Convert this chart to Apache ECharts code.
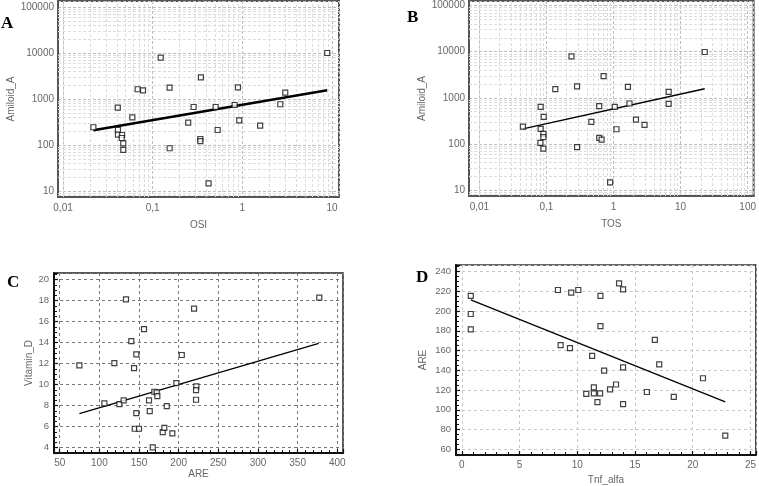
<!DOCTYPE html>
<html><head><meta charset="utf-8">
<script src="https://cdn.jsdelivr.net/npm/echarts@6/dist/echarts.min.js"></script>
<style>html,body{margin:0;padding:0;background:#fff}#c{width:759px;height:486px}</style>
</head><body><div id="c"></div>
<script>
// ---------- Panel A: OSI vs Amiloid_A ----------
const osiA = [0.0218,0.0408,0.041,0.041,0.0455,0.0452,0.047,0.047,0.0593,0.068,0.078,0.1228,0.1545,0.1545,0.249,0.286,0.345,0.34,0.34,0.42,0.504,0.53,0.82,0.893,0.924,1.58,2.65,3.01,8.85];
const amiloidA = [243,647,212,168,165,142,109,78,400,1627,1546,7900,1762,85,306,670,2960,135,122,14.7,670,212,741,1795,344,263,768,1374,10000];
const fitA_x = [0.0218, 8.85];
const fitA_y = [209, 1546];
// ---------- Panel B: TOS vs Amiloid_A ----------
const tosB = [0.0445,0.082,0.091,0.082,0.090,0.090,0.0812,0.090,0.1355,0.236,0.286,0.286,0.467,0.612,0.711,0.612,0.664,0.89,1.045,1.107,1.64,1.73,2.16,2.9,6.64,6.64,22.9];
const amiloidB = [238,637,386,212,165,140,105,79,1546,7900,1762,85,301,659,2960,135,124,14.7,637,208,1734,753,338,259,1350,741,9850];
const fitB_x = [0.0445, 22.9];
const fitB_y = [212, 1570];
// ---------- Panel C: ARE vs Vitamin_D ----------
const areC = [74.8,106.3,118.9,125.2,130.7,133.6,140.3,143.7,146.6,146.6,144.6,150.0,156.3,162.6,163.5,167.3,169.3,172.3,173.1,179.9,181.9,185,192,197.1,203.9,219.4,222.3,221.9,221.9,377.3];
const vitD = [11.84,8.22,12.06,8.16,8.51,18.13,14.16,11.59,12.89,7.30,5.81,5.81,15.30,8.51,7.49,4.03,9.33,9.27,8.92,5.49,5.90,7.97,5.37,10.16,12.83,17.24,9.84,9.49,8.57,18.29];
const fitC_x = [74.8, 376.6];
const fitC_y = [7.24, 13.94];
// ---------- Panel D: Tnf_alfa vs ARE ----------
const tnfD = [0.78,0.78,0.78,8.33,8.56,9.37,9.48,10.09,10.78,11.29,11.44,11.44,11.75,11.98,12.01,12.01,12.33,12.84,13.36,13.62,13.97,13.97,13.97,16.03,16.72,17.10,18.36,20.89,22.82];
const areD = [215.4,197.1,181.5,221.4,165.6,162.6,218.7,221.4,116.1,154.6,122.7,116.7,107.8,116.7,215.4,184.8,139.7,120.7,125.7,228.0,222.1,143.0,105.8,118.1,170.9,146.0,113.1,132.0,73.9];
const fitD_x = [0.78, 22.82];
const fitD_y = [211.4, 108.1];

// tick labels
const logTickValsA_x = [0.01, 0.1, 1, 10];
const logTickLabsA_x = ['0,01', '0,1', '1', '10'];
const logTickValsB_x = [0.01, 0.1, 1, 10, 100];
const logTickLabsB_x = ['0,01', '0,1', '1', '10', '100'];
const logTickValsY = [10, 100, 1000, 10000, 100000];
const logTickLabsY = ['10', '100', '1000', '10000', '100000'];
const minorMult = [2,3,4,5,6,7,8,9];

const panelLetters = ['A','B','C','D'];
const axisNames = { ax: 'OSI', bx: 'TOS', ay: 'Amiloid_A', by: 'Amiloid_A', cx: 'ARE', cy: 'Vitamin_D', dx: 'Tnf_alfa', dy: 'ARE' };

const FONT = 'Liberation Sans, Arial, sans-serif';
const LABEL_COLOR = '#666';

function zip(xs, ys) { return xs.map((x, i) => [x, ys[i]]); }
function logFmt(vals, labs) {
  return function (v) {
    for (let i = 0; i < vals.length; i++) if (Math.abs(v / vals[i] - 1) < 1e-6) return labs[i];
    return '';
  };
}
function minorLogLines(lo, hi, key) {
  const out = [];
  for (let d = Math.floor(Math.log10(lo)); d <= Math.ceil(Math.log10(hi)); d++) {
    minorMult.forEach(m => { const v = m * Math.pow(10, d); if (v > lo && v < hi) { const o = {}; o[key] = v; out.push(o); } });
  }
  return out;
}

const extA_x = [Math.pow(10, -2.056), Math.pow(10, 1.078)];
const extA_y = [Math.pow(10, 0.87), Math.pow(10, 5.13)];
const extB_x = [Math.pow(10, -2.155), Math.pow(10, 2.089)];
const extB_y = [Math.pow(10, 0.87), Math.pow(10, 5.10)];

const majorLogSplit = { show: true, lineStyle: { color: '#bdbdbd', type: [3, 2], width: 1 } };
const minorLineStyle = { color: '#dcdcdc', type: [3, 2], width: 1 };

function logXAxis(idx, ext, vals, labs, name) {
  return {
    type: 'log', gridIndex: idx, min: ext[0], max: ext[1], logBase: 10,
    name: name, nameLocation: 'middle', nameGap: 23,
    nameTextStyle: { color: LABEL_COLOR, fontSize: 10, fontFamily: FONT },
    axisLine: { show: true, lineStyle: { color: '#555', width: 2 } },
    axisTick: { show: false },
    axisLabel: { color: LABEL_COLOR, fontSize: 10, fontFamily: FONT, margin: 6, formatter: logFmt(vals, labs), showMinLabel: true, showMaxLabel: true },
    splitLine: majorLogSplit
  };
}
function logYAxis(idx, ext, name, gap) {
  return {
    type: 'log', gridIndex: idx, min: ext[0], max: ext[1], logBase: 10,
    name: name, nameLocation: 'middle', nameGap: gap,
    nameTextStyle: { color: LABEL_COLOR, fontSize: 10, fontFamily: FONT },
    axisLine: { show: true, lineStyle: { color: '#555', width: 2 } },
    axisTick: { show: false },
    axisLabel: { color: LABEL_COLOR, fontSize: 10, fontFamily: FONT, margin: 4, formatter: logFmt(logTickValsY, logTickLabsY) },
    splitLine: majorLogSplit
  };
}
function linAxis(idx, dim, ext, splitNumber, name, nameGap, splitStyle, minorSplit) {
  return {
    type: 'value', gridIndex: idx, min: ext[0], max: ext[1], splitNumber: splitNumber,
    name: name, nameLocation: 'middle', nameGap: nameGap,
    nameTextStyle: { color: LABEL_COLOR, fontSize: 10, fontFamily: FONT },
    axisLine: { show: true, onZero: false, lineStyle: { color: '#111', width: 2 } },
    axisTick: { show: true, inside: true, length: 4, lineStyle: { color: '#111', width: 1.2 } },
    minorTick: { show: true, splitNumber: minorSplit, length: 3, lineStyle: { color: '#111', width: 1 } },
    axisLabel: { color: LABEL_COLOR, fontSize: dim === 'x' ? 10 : 9.5, fontFamily: FONT, margin: 5, showMinLabel: false, showMaxLabel: false },
    splitLine: { show: true, lineStyle: splitStyle }
  };
}

const scatterStyle = { color: '#fff', borderColor: '#111', borderWidth: 1.2 };
function scatter(idx, xs, ys, extraMark) {
  const s = { type: 'scatter', xAxisIndex: idx, yAxisIndex: idx, symbol: 'rect', symbolSize: 5, itemStyle: scatterStyle, data: zip(xs, ys), z: 5 };
  if (extraMark) s.markLine = { silent: true, symbol: 'none', label: { show: false }, lineStyle: minorLineStyle, data: extraMark, z: 1 };
  return s;
}
function fit(idx, xs, ys, w) {
  return { type: 'line', xAxisIndex: idx, yAxisIndex: idx, showSymbol: false, symbol: 'none', data: zip(xs, ys), lineStyle: { color: '#000', width: w }, z: 4 };
}

const chart = echarts.init(document.getElementById('c'), null, { renderer: 'canvas' });
const option = {
  animation: false,
  backgroundColor: '#fff',
  grid: [
    { left: 58, right: 420, top: 1, bottom: 289, show: true, borderColor: '#555', borderWidth: 2 },
    { left: 469, right: 3, top: 1, bottom: 290, show: true, borderColor: '#555', borderWidth: 2 },
    { left: 54, right: 416, top: 273, bottom: 33, show: true, borderColor: '#222', borderWidth: 1.5 },
    { left: 456, right: 1, top: 265, bottom: 28, show: true, borderColor: '#333', borderWidth: 1.5 }
  ],
  xAxis: [
    logXAxis(0, extA_x, logTickValsA_x, logTickLabsA_x, axisNames.ax),
    logXAxis(1, extB_x, logTickValsB_x, logTickLabsB_x, axisNames.bx),
    linAxis(2, 'x', [42.8, 407.2], 7, axisNames.cx, 16, { color: '#777', type: [3, 3], width: 1 }, 5),
    linAxis(3, 'x', [-0.5, 25.47], 5, axisNames.dx, 20, { color: '#c8c8c8', type: [3, 3], width: 1 }, 5)
  ],
  yAxis: [
    logYAxis(0, extA_y, axisNames.ay, 40),
    logYAxis(1, extB_y, axisNames.by, 42),
    linAxis(2, 'y', [3.5, 20.64], 8, axisNames.cy, 16, { color: '#777', type: [3, 3], width: 1 }, 4),
    linAxis(3, 'y', [54.3, 246.7], 10, axisNames.dy, 28, { color: '#c8c8c8', type: [3, 3], width: 1 }, 4)
  ],
  series: [
    scatter(0, osiA, amiloidA, minorLogLines(extA_x[0], extA_x[1], 'xAxis').concat(minorLogLines(extA_y[0], extA_y[1], 'yAxis'))),
    fit(0, fitA_x, fitA_y, 2.5),
    scatter(1, tosB, amiloidB, minorLogLines(extB_x[0], extB_x[1], 'xAxis').concat(minorLogLines(extB_y[0], extB_y[1], 'yAxis'))),
    fit(1, fitB_x, fitB_y, 1.5),
    scatter(2, areC, vitD),
    fit(2, fitC_x, fitC_y, 1.3),
    scatter(3, tnfD, areD),
    fit(3, fitD_x, fitD_y, 1.3)
  ],
  graphic: [
    { type: 'text', left: 1, top: 15, style: { text: panelLetters[0], font: 'bold 17px "Liberation Serif", "DejaVu Serif", serif', fill: '#000' } },
    { type: 'text', left: 407, top: 9, style: { text: panelLetters[1], font: 'bold 17px "Liberation Serif", "DejaVu Serif", serif', fill: '#000' } },
    { type: 'text', left: 7, top: 274, style: { text: panelLetters[2], font: 'bold 17px "Liberation Serif", "DejaVu Serif", serif', fill: '#000' } },
    { type: 'text', left: 416, top: 269, style: { text: panelLetters[3], font: 'bold 17px "Liberation Serif", "DejaVu Serif", serif', fill: '#000' } }
  ]
};
chart.setOption(option);
</script>
</body></html>
